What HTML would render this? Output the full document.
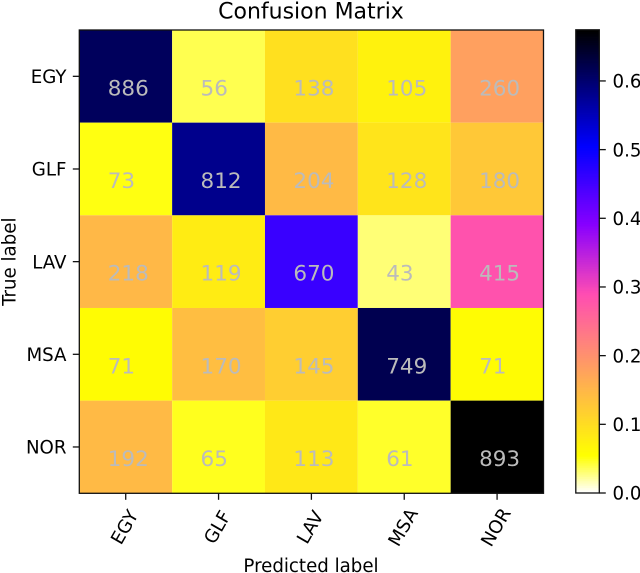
<!DOCTYPE html>
<html lang="en">
<head>
<meta charset="utf-8">
<title>Confusion Matrix</title>
<style>
html,body{margin:0;padding:0;background:#fff;width:640px;height:573px;overflow:hidden}
svg{display:block;font-family:"DejaVu Sans","Liberation Sans",sans-serif}
</style>
</head>
<body>
<svg id="chart" xmlns="http://www.w3.org/2000/svg" width="640" height="573" viewBox="0 0 640 573">
<text x="311" y="18.7" font-size="22" text-anchor="middle" fill="#000">Confusion Matrix</text>
<text x="311" y="572" font-size="18.2" text-anchor="middle" fill="#000">Predicted label</text>
<text transform="translate(15.5 261.7) rotate(-90)" font-size="18.2" text-anchor="middle" fill="#000">True label</text>
</svg>
<script>
const categories = ["EGY", "GLF", "LAV", "MSA", "NOR"];
const rowEGY = [886, 56, 138, 105, 260];
const rowGLF = [73, 812, 204, 128, 180];
const rowLAV = [218, 119, 670, 43, 415];
const rowMSA = [71, 170, 145, 749, 71];
const rowNOR = [192, 65, 113, 61, 893];
const colorbarTicks = [0.0, 0.1, 0.2, 0.3, 0.4, 0.5, 0.6];

const matrix = [rowEGY, rowGLF, rowLAV, rowMSA, rowNOR];
const NS = "http://www.w3.org/2000/svg";
const svg = document.getElementById("chart");

const plot = {left: 79.3, right: 543.5, top: 30, bottom: 493.3};
const bar = {left: 575.8, right: 599.3, top: 29.8, bottom: 493};

const rates = matrix.map(function (row) {
  const total = row.reduce(function (a, b) { return a + b; }, 0);
  return row.map(function (v) { return v / total; });
});
const vmax = Math.max.apply(null, rates.map(function (r) { return Math.max.apply(null, r); }));

function cellX(i) { return plot.left + (plot.right - plot.left) * i / categories.length; }
function cellY(i) { return plot.top + (plot.bottom - plot.top) * i / categories.length; }
function colorY(v) { return bar.bottom - (bar.bottom - bar.top) * v / vmax; }

function clip(v) { return Math.round(Math.max(0, Math.min(1, v)) * 255); }
/* gnuplot2_r colormap, quantised to 256 levels */
function cmap(t) {
  const x = 1 - Math.min(255, Math.floor(t * 256)) / 255;
  const r = x / 0.32 - 0.78125;
  const g = 2 * x - 0.84;
  let b;
  if (x < 0.25) b = 4 * x;
  else if (x < 0.42) b = 1;
  else if (x < 0.92) b = -2 * x + 1.84;
  else b = x / 0.08 - 11.5;
  return "rgb(" + clip(r) + "," + clip(g) + "," + clip(b) + ")";
}

function make(tag, attrs, text) {
  const el = document.createElementNS(NS, tag);
  Object.keys(attrs).forEach(function (k) { el.setAttribute(k, attrs[k]); });
  if (text !== undefined) el.textContent = text;
  svg.appendChild(el);
  return el;
}

/* heatmap cells */
rates.forEach(function (row, r) {
  row.forEach(function (v, c) {
    const cell = make("rect", {x: cellX(c), y: cellY(r), width: cellX(c + 1) - cellX(c), height: cellY(r + 1) - cellY(r), fill: cmap(v / vmax)});
    
    
  });
});

/* printed counts */
matrix.forEach(function (row, r) {
  row.forEach(function (v, c) {
    const centerX = (cellX(c) + cellX(c + 1)) / 2;
    const centerY = (cellY(r) + cellY(r + 1)) / 2;
    const label = make("text", {x: centerX - 18, y: centerY + 19, "font-size": 21.5, fill: "#bbbbbb"}, String(v));
    
    
  });
});

/* plot frame */
const frame = make("rect", {x: plot.left, y: plot.top, width: plot.right - plot.left, height: plot.bottom - plot.top, fill: "none", stroke: "#111", "stroke-width": 1.3});



/* axes ticks and labels */
categories.forEach(function (name, i) {
  const tx = (cellX(i) + cellX(i + 1)) / 2;
  const ty = (cellY(i) + cellY(i + 1)) / 2;

  const xTick = make("line", {x1: tx, x2: tx, y1: plot.bottom, y2: plot.bottom + 6.5, stroke: "#111", "stroke-width": 1.3});
  
  

  const xLabel = make("text", {transform: "translate(" + (tx - 1.5) + " 527) rotate(-60)", "font-size": 18.2, "text-anchor": "middle", dy: "0.36em", fill: "#000"}, name);
  
  

  const yTick = make("line", {x1: plot.left - 6.5, x2: plot.left, y1: ty, y2: ty, stroke: "#111", "stroke-width": 1.3});
  
  

  const yLabel = make("text", {x: 66.5, y: ty + 6.7, "font-size": 18.2, "text-anchor": "end", fill: "#000"}, name);
  
  
});

/* colorbar */
const bands = 256;
for (let i = 0; i < bands; i++) {
  const y0 = bar.bottom - (bar.bottom - bar.top) * (i + 1) / bands;
  const y1 = bar.bottom - (bar.bottom - bar.top) * i / bands;
  const band = make("rect", {x: bar.left, y: y0, width: bar.right - bar.left, height: y1 - y0 + 0.4, fill: cmap((i + 0.5) / bands)});
  
  
}
const barFrame = make("rect", {x: bar.left, y: bar.top, width: bar.right - bar.left, height: bar.bottom - bar.top, fill: "none", stroke: "#111", "stroke-width": 1.3});



colorbarTicks.forEach(function (v) {
  const y = colorY(v);
  const tick = make("line", {x1: bar.right, x2: bar.right + 6.5, y1: y, y2: y, stroke: "#111", "stroke-width": 1.3});
  
  
  const label = make("text", {x: 612.5, y: y + 6.7, "font-size": 18.2, fill: "#000"}, v.toFixed(1));
  
  
});
</script>
</body>
</html>
